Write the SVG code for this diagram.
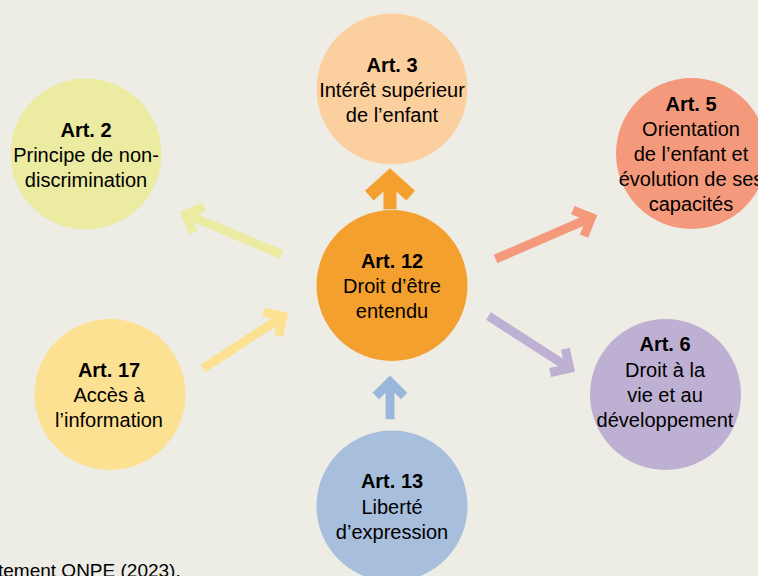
<svg xmlns="http://www.w3.org/2000/svg" width="758" height="576" viewBox="0 0 758 576">
<style>
  .t { font-family: "Liberation Sans", Arial, sans-serif; font-size: 20px; fill: #000; text-anchor: middle; }
  .b { font-weight: bold; }
  .arr { fill: none; stroke-linecap: butt; stroke-linejoin: miter; stroke-miterlimit: 4; }
  .thin { stroke-width: 9; }
</style>
<rect width="758" height="576" fill="#EDECE5"/>

<g id="connectors">
  <path class="arr" stroke="#F4A02F" stroke-width="13" transform="translate(390,209.3) rotate(-90)" d="M0,0 H32.3 M13.7,-20.7 L32.3,0 L13.7,20.7"/>
  <path class="arr thin" stroke="#EBEBA1" transform="translate(281.5,254.5) rotate(202.9)" d="M0,0 H103.8 M89.7,-14.1 L103.8,0 L89.7,14.1"/>
  <path class="arr thin" stroke="#FDE192" transform="translate(203,368.5) rotate(-33.2)" d="M0,0 H95.5 M81.4,-14.1 L95.5,0 L81.4,14.1"/>
  <path class="arr thin" stroke="#F4997B" transform="translate(495.5,259) rotate(-23.4)" d="M0,0 H104.5 M90.4,-14.1 L104.5,0 L90.4,14.1"/>
  <path class="arr thin" stroke="#BEB0D3" transform="translate(488.5,316) rotate(32.8)" d="M0,0 H96.5 M82.4,-14.1 L96.5,0 L82.4,14.1"/>
  <path class="arr thin" stroke="#9AB7DB" transform="translate(390,419.3) rotate(-90)" d="M0,0 H37.4 M23.3,-14.1 L37.4,0 L23.3,14.1"/>
</g>

<g id="art2">
  <circle cx="86" cy="154" r="75.5" fill="#EBEBA1"/>
  <text class="t b" x="86" y="137">Art. 2</text>
  <text class="t" x="86" y="162">Principe de non-</text>
  <text class="t" x="86" y="187">discrimination</text>
</g>

<g id="art3">
  <circle cx="392" cy="89" r="75.5" fill="#FCCF9E"/>
  <text class="t b" x="392" y="72">Art. 3</text>
  <text class="t" x="392" y="97">Intérêt supérieur</text>
  <text class="t" x="392" y="122">de l’enfant</text>
</g>

<g id="art5">
  <circle cx="691.5" cy="153.5" r="75.5" fill="#F4997B"/>
  <text class="t b" x="691" y="111">Art. 5</text>
  <text class="t" x="691" y="136">Orientation</text>
  <text class="t" x="691" y="161">de l’enfant et</text>
  <text class="t" x="691" y="186">évolution de ses</text>
  <text class="t" x="691" y="211">capacités</text>
</g>

<g id="art12">
  <circle cx="392" cy="285.5" r="75.5" fill="#F4A02F"/>
  <text class="t b" x="392" y="268">Art. 12</text>
  <text class="t" x="392" y="293">Droit d’être</text>
  <text class="t" x="392" y="318">entendu</text>
</g>

<g id="art17">
  <circle cx="110" cy="394.5" r="75.5" fill="#FDE192"/>
  <text class="t b" x="109" y="377">Art. 17</text>
  <text class="t" x="109" y="402">Accès à</text>
  <text class="t" x="109" y="427">l’information</text>
</g>

<g id="art6">
  <circle cx="665.5" cy="394.5" r="75.5" fill="#BEB0D3"/>
  <text class="t b" x="665" y="351">Art. 6</text>
  <text class="t" x="665" y="376.5">Droit à la</text>
  <text class="t" x="665" y="401.5">vie et au</text>
  <text class="t" x="665" y="426.5">développement</text>
</g>

<g id="art13">
  <circle cx="392" cy="506" r="75.5" fill="#A7BFDD"/>
  <text class="t b" x="392" y="488">Art. 13</text>
  <text class="t" x="392" y="514">Liberté</text>
  <text class="t" x="392" y="539">d’expression</text>
</g>

<text x="-2" y="577" font-family="Liberation Sans, Arial, sans-serif" font-size="19" fill="#000">tement ONPE (2023).</text>
</svg>
